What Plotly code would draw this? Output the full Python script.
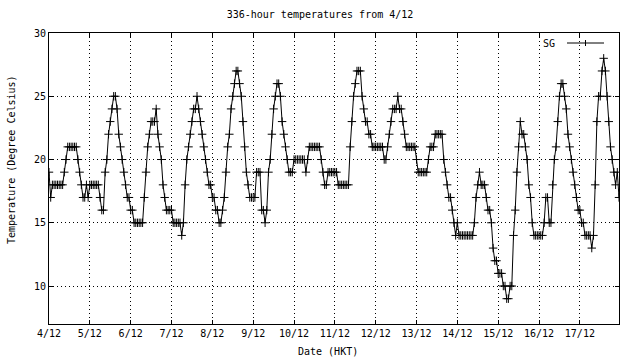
import plotly.graph_objects as go

# Hourly temperatures (deg C) for SG, one list per day, starting 4/12 00:00
day_04 = [19,17,18,18,18,18,18,18,18,19,20,21,21,21,21,21,21,20,19,18,17,17,18,17]
day_05 = [18,18,18,18,18,18,17,16,16,19,20,22,23,24,25,25,24,22,21,20,19,18,17,17]
day_06 = [16,16,15,15,15,15,15,15,17,19,21,22,23,23,23,24,22,21,20,18,17,16,16,16]
day_07 = [16,15,15,15,15,15,14,15,18,20,21,22,23,24,24,25,24,23,22,21,20,19,18,18]
day_08 = [17,17,16,16,15,15,16,17,19,21,22,24,25,26,27,27,26,25,23,21,19,18,17,17]
day_09 = [17,17,19,19,19,16,16,15,16,19,20,22,24,25,26,26,25,23,22,21,20,19,19,19]
day_10 = [20,20,20,20,20,20,20,19,20,21,21,21,21,21,21,21,20,19,18,18,19,19,19,19]
day_11 = [19,19,18,18,18,18,18,18,18,21,23,25,26,27,27,27,25,24,23,23,22,22,21,21]
day_12 = [21,21,21,21,21,20,20,21,22,23,24,24,24,25,24,24,23,22,21,21,21,21,21,21]
day_13 = [20,19,19,19,19,19,19,20,21,21,21,22,22,22,22,22,20,19,18,17,17,16,15,14]
day_14 = [15,14,14,14,14,14,14,14,14,14,15,17,18,19,18,18,18,17,16,16,15,13,12,12]
day_15 = [11,11,11,10,10,9,9,10,10,14,16,19,21,23,22,22,21,20,18,17,15,14,14,14]
day_16 = [14,14,14,15,17,17,15,15,18,20,21,23,25,26,26,25,24,22,21,20,19,18,17,16]
day_17 = [16,15,15,14,14,14,14,13,14,18,23,25,25,27,28,27,25,23,21,20,19,18,19,17]

days = [day_04, day_05, day_06, day_07, day_08, day_09, day_10,
        day_11, day_12, day_13, day_14, day_15, day_16, day_17]
date_labels = ["4/12", "5/12", "6/12", "7/12", "8/12", "9/12", "10/12",
               "11/12", "12/12", "13/12", "14/12", "15/12", "16/12", "17/12"]
series_name = "SG"

temps = [t for d in days for t in d]
hours = list(range(len(temps)))
tick_hours = [24 * i for i in range(len(date_labels))]

FONT = "DejaVu Sans Mono"
L, R, T, B = 49, 21, 33, 36
W, H = 640, 360
PW, PH = W - L - R, H - T - B


def px_x(px):
    return (px - L) / PW


def px_y(py):
    return (H - B - py) / PH


fig = go.Figure()
fig.add_trace(go.Scatter(
    x=hours, y=temps, mode="lines+markers", name=series_name,
    line=dict(color="black", width=1),
    marker=dict(symbol="cross-thin", size=6, color="black",
                line=dict(color="black", width=1)),
    showlegend=False,
))

axis_common = dict(
    showline=True, linecolor="black", linewidth=1, mirror="ticks",
    ticks="inside", ticklen=4, tickcolor="black", tickwidth=1,
    showgrid=True, gridcolor="black", gridwidth=1, griddash="1px,3px",
    zeroline=False,
    tickfont=dict(family=FONT, size=10, color="black"),
)

fig.update_xaxes(range=[0, len(temps) - 1], tickvals=tick_hours,
                 ticktext=date_labels, **axis_common)
fig.update_yaxes(range=[7, 30], tickvals=[10, 15, 20, 25, 30], **axis_common)

# legend key (gnuplot style: label, then sample)
lx0, lx1, ly = 567, 604, 43
cx = (lx0 + lx1) / 2
shapes = [
    dict(type="line", xref="paper", yref="paper",
         x0=px_x(lx0), x1=px_x(lx1), y0=px_y(ly), y1=px_y(ly),
         line=dict(color="black", width=1)),
    dict(type="line", xref="paper", yref="paper",
         x0=px_x(cx), x1=px_x(cx), y0=px_y(ly - 3), y1=px_y(ly + 3),
         line=dict(color="black", width=1)),
]

annotations = [
    dict(text=series_name, xref="paper", yref="paper", x=px_x(557), y=px_y(ly),
         xanchor="right", yanchor="middle", showarrow=False,
         font=dict(family=FONT, size=10, color="black")),
    dict(text="Date (HKT)", xref="paper", yref="paper", x=px_x(328), y=px_y(351),
         xanchor="center", yanchor="middle", showarrow=False,
         font=dict(family=FONT, size=10, color="black")),
    dict(text="Temperature (Degree Celsius)", xref="paper", yref="paper",
         x=px_x(11), y=px_y(160), textangle=-90,
         xanchor="center", yanchor="middle", showarrow=False,
         font=dict(family=FONT, size=10, color="black")),
]

fig.update_layout(
    width=W, height=H,
    margin=dict(l=L, r=R, t=T, b=B),
    paper_bgcolor="white", plot_bgcolor="white",
    title=dict(text="336-hour temperatures from 4/12", x=0.5, xref="container",
               y=1 - 14 / H, yref="container", xanchor="center", yanchor="middle",
               font=dict(family=FONT, size=10, color="black")),
    shapes=shapes, annotations=annotations,
    showlegend=False,
)

fig.write_html("out.html",
               config={"displayModeBar": False},
               post_script="document.body.style.margin='0';"
                           "document.body.style.padding='0';")
